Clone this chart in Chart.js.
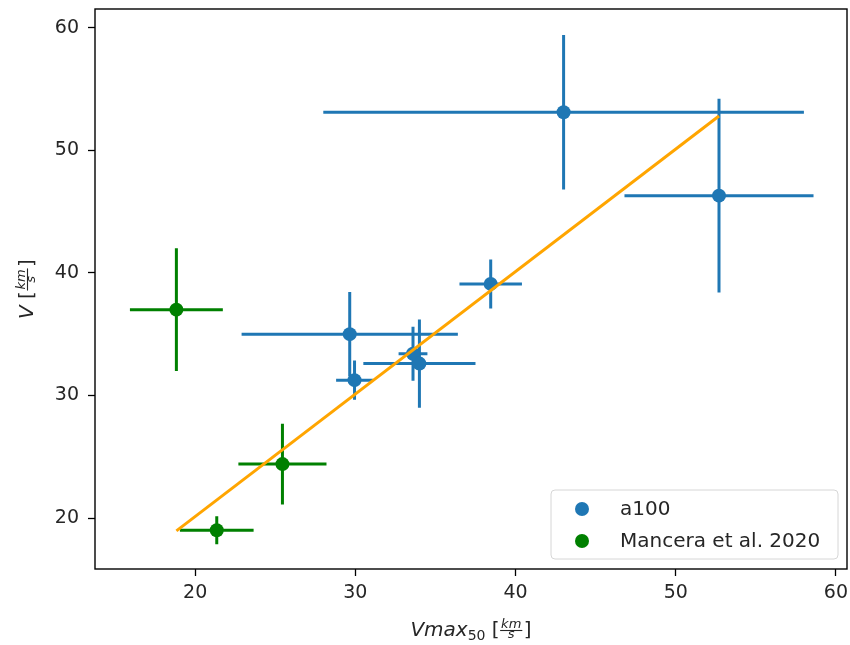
<!DOCTYPE html>
<html>
<head>
<meta charset="utf-8">
<script src="https://cdn.jsdelivr.net/npm/chart.js@4.4.1/dist/chart.umd.min.js"></script>
<style>
  html, body { margin: 0; padding: 0; background: #fff; overflow: hidden; }
  canvas { display: block; }
</style>
</head>
<body>
<!-- a few px wider than the window: the last x label's overhang goes off-screen -->
<canvas id="chart" width="854" height="645"></canvas>
<script>
// a100 haloes: Vmax50 vs V, with 1-sigma errors
const a100X    = [43.0, 52.7, 38.45, 29.65, 29.95, 33.6, 34.0]
const a100Y    = [53.1, 46.3, 39.1, 35.0, 31.25, 33.4, 32.6]
const a100XErr = [15.0, 5.9, 1.95, 6.75, 1.15, 0.9, 3.5]
const a100YErr = [6.3, 7.9, 2.0, 3.45, 1.6, 2.2, 3.6]

// Mancera et al. 2020 points
const manceraX    = [18.83, 25.45, 21.35]
const manceraY    = [37.0, 24.4, 19.0]
const manceraXErr = [2.9, 2.75, 2.3]
const manceraYErr = [5.0, 3.3, 1.15]

// linear fit, evaluated at the ends of the x range
const fitX = [18.83, 52.7]
const fitY = [18.95, 52.8]

const xTicks = [20, 30, 40, 50, 60]
const yTicks = [20, 30, 40, 50, 60]
const xRange = [13.75, 60.69]
const yRange = [15.84, 61.53]

const FONT = 'DejaVu Sans'
const TEXT = '#262626'
const BLUE = '#1f77b4'
const GREEN = '#008000'

const toPoints = (xs, ys) => xs.map((x, i) => ({ x: x, y: ys[i] }))

// cross-shaped error bars, no caps, drawn under the markers
const errorBars = {
  id: 'errorBars',
  beforeDatasetsDraw(chart) {
    const { ctx, chartArea, scales: { x, y } } = chart
    ctx.save()
    ctx.beginPath()
    ctx.rect(chartArea.left, chartArea.top, chartArea.right - chartArea.left, chartArea.bottom - chartArea.top)
    ctx.clip()
    ctx.lineWidth = 3
    ctx.lineCap = 'butt'
    chart.data.datasets.forEach(ds => {
      if (!ds.xErr) return
      ctx.strokeStyle = ds.backgroundColor
      ds.data.forEach((p, i) => {
        const px = x.getPixelForValue(p.x)
        const py = y.getPixelForValue(p.y)
        ctx.beginPath()
        ctx.moveTo(x.getPixelForValue(p.x - ds.xErr[i]), py)
        ctx.lineTo(x.getPixelForValue(p.x + ds.xErr[i]), py)
        ctx.moveTo(px, y.getPixelForValue(p.y - ds.yErr[i]))
        ctx.lineTo(px, y.getPixelForValue(p.y + ds.yErr[i]))
        ctx.stroke()
      })
    })
    ctx.restore()
  }
}

// box around the plot area
const frame = {
  id: 'frame',
  afterDatasetsDraw(chart) {
    const { ctx, chartArea: a } = chart
    ctx.save()
    ctx.strokeStyle = '#000'
    ctx.lineWidth = 1.4
    ctx.strokeRect(a.left, a.top, a.right - a.left, a.bottom - a.top)
    ctx.restore()
  }
}

// text runs with a km/s fraction, laid out left to right on one baseline
const measureLabel = (ctx, parts) => {
  let w = 0
  parts.forEach(p => {
    ctx.font = p.font
    if (p.frac) {
      p.w = Math.max(ctx.measureText(p.num).width, ctx.measureText(p.den).width) + 3
    } else {
      p.w = ctx.measureText(p.text).width
    }
    w += p.w + (p.gap || 0)
  })
  return w
}

const drawLabel = (ctx, parts, cx, baseline) => {
  const total = measureLabel(ctx, parts)
  let x = cx - total / 2
  ctx.fillStyle = TEXT
  ctx.strokeStyle = TEXT
  ctx.textBaseline = 'alphabetic'
  parts.forEach(p => {
    ctx.font = p.font
    if (p.frac) {
      ctx.textAlign = 'center'
      ctx.fillText(p.num, x + p.w / 2, baseline - 8)
      ctx.fillText(p.den, x + p.w / 2, baseline + 2)
      ctx.lineWidth = 1.1
      ctx.beginPath()
      ctx.moveTo(x + 0.5, baseline - 5.5)
      ctx.lineTo(x + p.w - 0.5, baseline - 5.5)
      ctx.stroke()
    } else {
      ctx.textAlign = 'left'
      ctx.fillText(p.text, x, baseline + (p.dy || 0))
    }
    x += p.w + (p.gap || 0)
  })
}

const unitParts = () => [
  { text: ' [', font: '20px ' + FONT },
  { frac: true, num: 'km', den: 's', font: 'italic 13px ' + FONT, gap: 1 },
  { text: ']', font: '20px ' + FONT }
]

const axisTitles = {
  id: 'axisTitles',
  afterDraw(chart) {
    const { ctx, chartArea: a } = chart
    ctx.save()
    const xParts = [
      { text: 'Vmax', font: 'italic 20px ' + FONT },
      { text: '50', font: '14px ' + FONT, dy: 4 }
    ].concat(unitParts())
    drawLabel(ctx, xParts, (a.left + a.right) / 2, 636)

    ctx.translate(33, (a.top + a.bottom) / 2)
    ctx.rotate(-Math.PI / 2)
    const yParts = [{ text: 'V', font: 'italic 20px ' + FONT }].concat(unitParts())
    drawLabel(ctx, yParts, 0, 0)
    ctx.restore()
  }
}

// legend box in the lower right corner of the axes
const cornerLegend = {
  id: 'cornerLegend',
  afterDraw(chart) {
    const { ctx, chartArea: a } = chart
    const right = a.right - 9, bottom = a.bottom - 10
    const w = 287, h = 69
    const left = right - w, top = bottom - h
    ctx.save()
    ctx.beginPath()
    ctx.roundRect(left, top, w, h, 4)
    ctx.fillStyle = 'rgba(255,255,255,0.8)'
    ctx.fill()
    ctx.strokeStyle = '#d6d6d6'
    ctx.lineWidth = 1
    ctx.stroke()
    const items = chart.data.datasets.filter(ds => ds.inLegend)
    items.forEach((ds, i) => {
      const cy = top + 19 + i * 32
      ctx.fillStyle = ds.backgroundColor
      ctx.beginPath()
      ctx.arc(left + 31, cy, 7, 0, Math.PI * 2)
      ctx.fill()
      ctx.fillStyle = TEXT
      ctx.font = '20px ' + FONT
      ctx.textAlign = 'left'
      ctx.textBaseline = 'middle'
      ctx.fillText(ds.label, left + 69, cy + 1)
    })
    ctx.restore()
  }
}

const tickAxis = (range, ticks, pad) => ({
  type: 'linear',
  min: range[0],
  max: range[1],
  afterBuildTicks: s => { s.ticks = ticks.map(v => ({ value: v })) },
  ticks: { color: TEXT, font: { family: FONT, size: 19 }, padding: pad, maxRotation: 0 },
  grid: { display: true, drawOnChartArea: false, drawTicks: true, tickLength: 7, tickWidth: 1.3, tickColor: '#000' },
  border: { display: false }
})

// fixed axis sizes, and no extra room for labels hanging past the ends
const xAxis = tickAxis(xRange, xTicks, 6)
xAxis.afterFit = s => { s.height = 76; s.paddingLeft = 0; s.paddingRight = 0 }
const yAxis = tickAxis(yRange, yTicks, 9)
yAxis.afterFit = s => { s.width = 95; s.paddingTop = 0; s.paddingBottom = 0 }

const chart = new Chart(document.getElementById('chart').getContext('2d'), {
  type: 'scatter',
  data: {
    datasets: [
      {
        type: 'line',
        label: 'fit',
        data: toPoints(fitX, fitY),
        borderColor: '#ffa500',
        borderWidth: 3,
        pointRadius: 0,
        fill: false,
        order: 0
      },
      {
        label: 'a100',
        data: toPoints(a100X, a100Y),
        xErr: a100XErr,
        yErr: a100YErr,
        backgroundColor: BLUE,
        borderWidth: 0,
        pointRadius: 7,
        inLegend: true,
        order: 1
      },
      {
        label: 'Mancera et al. 2020',
        data: toPoints(manceraX, manceraY),
        xErr: manceraXErr,
        yErr: manceraYErr,
        backgroundColor: GREEN,
        borderWidth: 0,
        pointRadius: 7,
        inLegend: true,
        order: 2
      }
    ]
  },
  options: {
    responsive: false,
    animation: false,
    devicePixelRatio: 1,
    layout: { padding: { top: 9, right: 0, left: 0, bottom: 0 } },
    scales: { x: xAxis, y: yAxis },
    plugins: {
      legend: { display: false },
      tooltip: { enabled: false }
    }
  },
  plugins: [errorBars, frame, axisTitles, cornerLegend]
})
</script>
</body>
</html>
